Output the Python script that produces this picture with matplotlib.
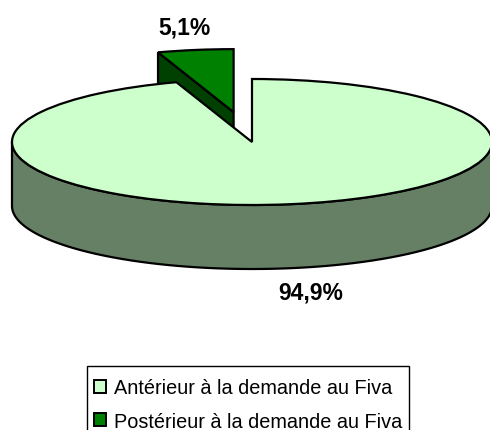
import numpy as np
import matplotlib
matplotlib.use('Agg')
import matplotlib.pyplot as plt
from matplotlib.patches import Rectangle

plt.rcParams['font.family'] = ['Liberation Sans', 'DejaVu Sans']

labels = ['Antérieur à la demande au Fiva', 'Postérieur à la demande au Fiva']
values = [94.9, 5.1]
top_colors = ['#CCFFCC', '#008000']
side_colors = ['#668066', '#004000']

W, H = 490, 431
CX, CY = 252, 143   # pie centre in pixels
RX, RY = 240, 63
DEPTH = 64 / RY
EXPLODE = 0.48

fig = plt.figure(figsize=(W / 100, H / 100), dpi=100)
ax = fig.add_axes([0, 0, 1, 1])

wedges, _ = ax.pie(values, colors=top_colors, startangle=90, counterclock=False,
                   explode=[0, EXPLODE],
                   wedgeprops={'edgecolor': 'black', 'linewidth': 1.6})
ax.set_aspect('auto')
# one data unit is RX pixels across and RY pixels up
ax.set_xlim(-CX / RX, (W - CX) / RX)
ax.set_ylim((CY - H) / RY, CY / RY)
ax.axis('off')

# rim of the large slice, front half only
t = np.linspace(np.pi, 2 * np.pi, 200)
x = np.concatenate([np.cos(t), np.cos(t[::-1])])
y = np.concatenate([np.sin(t) - DEPTH, np.sin(t[::-1])])
ax.fill(x, y, facecolor=side_colors[0], edgecolor='black', linewidth=1.6, zorder=0.6)

# cut face of the exploded slice, seen under its left edge
angle = np.deg2rad(90 + 360 * values[1] / sum(values))
mid = np.deg2rad(90 + 180 * values[1] / sum(values))
sx, sy = EXPLODE * np.cos(mid), EXPLODE * np.sin(mid)
ox, oy = np.cos(angle) + sx, np.sin(angle) + sy
ax.fill([sx, ox, ox, sx], [sy, oy, oy - DEPTH, sy - DEPTH],
        facecolor=side_colors[1], edgecolor='black', linewidth=1.6, zorder=0.5)

wedges[0].set_zorder(1.2)
wedges[1].set_zorder(1.1)

small_txt = f'{values[1]:.1f}%'.replace('.', ',')
big_txt = f'{values[0]:.1f}%'.replace('.', ',')
fig.text(184 / W, 1 - 28 / H, small_txt, fontsize=16.5, fontweight='bold', color='black',
         ha='center', va='center')
fig.text(311 / W, 1 - 293 / H, big_txt, fontsize=16.5, fontweight='bold', color='black',
         ha='center', va='center')

# legend frame runs off the bottom of the picture, so it is drawn apart from the entries
fig.add_artist(Rectangle((87 / W, -10 / H), 322 / W, (H - 367 + 10) / H, transform=fig.transFigure,
                         facecolor='white', edgecolor='black', linewidth=1.0))
leg = fig.legend(wedges, labels, loc='upper left', bbox_to_anchor=(94 / W, 1 - 379.4 / H),
                 borderaxespad=0, frameon=False, fontsize=14.35, handlelength=0.6,
                 handleheight=0.6, handletextpad=0.4, labelspacing=0.72, borderpad=0)
for h in leg.legend_handles:
    h.set_linewidth(1.4)

fig.savefig('out.png', dpi=100)
